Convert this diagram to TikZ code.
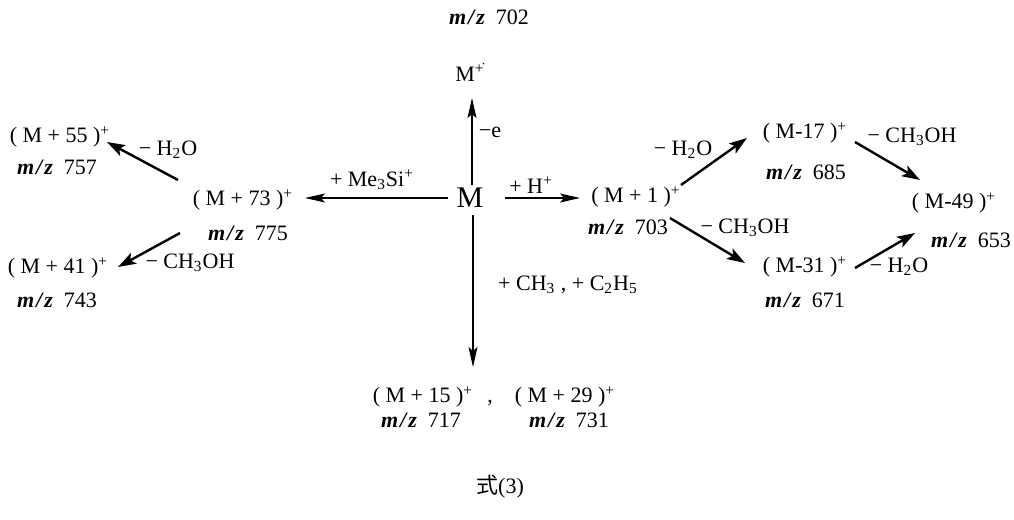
\documentclass[tikz,border=0pt]{standalone}
\usepackage{fontspec}
\setmainfont{Liberation Serif}
\newfontfamily\cjk{Noto Sans CJK SC}
\usetikzlibrary{arrows.meta}
\newcommand\mzt[1]{\textbf{\textit{m\kern1pt/\kern1pt z}}\ \ #1}
\newcommand\sbb[1]{\textsubscript{#1}}
\newcommand\spp[1]{\textsuperscript{#1}}
\begin{document}
\begin{tikzpicture}[x=0.5pt,y=-0.5pt,
  every node/.style={font=\fontsize{11}{12}\selectfont, inner sep=0pt},
  bigm/.style={font=\fontsize{15}{16}\selectfont},
  rxn/.style={-{Stealth[length=10pt,width=4.5pt,inset=2pt]}, line width=0.7pt},
  rxnb/.style={-{Stealth[length=9pt,width=6pt,inset=2pt]}, line width=1.2pt}]
\useasboundingbox (0,0) rectangle (1014,520);

% top and centre
\node (mz702) at (489,17) {\mzt{702}};
\node (Mrad) at (470,72) {M\spp{+̇}};
\node[bigm] (M) at (470,198) {M};

% left branch
\node (M73) at (243,200) {( M + 73 )\spp{+}};
\node (mz775) at (248,233) {\mzt{775}};
\node (M55) at (60,137) {( M + 55 )\spp{+}};
\node (mz757) at (57,167) {\mzt{757}};
\node (M41) at (58,268) {( M + 41 )\spp{+}};
\node (mz743) at (57,300) {\mzt{743}};

% right branch
\node (M1) at (636,197) {( M + 1 )\spp{+}};
\node (mz703) at (628,227) {\mzt{703}};
\node (M17) at (805,133) {( M-17 )\spp{+}};
\node (mz685) at (806,172) {\mzt{685}};
\node (M31) at (805,267) {( M-31 )\spp{+}};
\node (mz671) at (805,300) {\mzt{671}};
\node (M49) at (954,203) {( M-49 )\spp{+}};
\node (mz653) at (971,240) {\mzt{653}};

% bottom
\node (M15) at (423,397) {( M + 15 )\spp{+}};
\node (comma) at (490,403) {,};
\node (M29) at (565,397) {( M + 29 )\spp{+}};
\node (mz717) at (421,420) {\mzt{717}};
\node (mz731) at (569,420) {\mzt{731}};

\node (title) at (500,487) {{\cjk 式}(3)};

% arrow labels
\node (le) at (490,132) {−e};
\node (lsi) at (372,180) {+ Me\sbb{3}Si\spp{+}};
\node (lh) at (531,185) {+ H\spp{+}};
\node (lalk) at (568,285) {+ CH\sbb{3} ,\ + C\sbb{2}H\sbb{5}};
\node (lw1) at (168,150) {− H\sbb{2}O};
\node (lm1) at (190,263) {− CH\sbb{3}OH};
\node (lw2) at (683,150) {− H\sbb{2}O};
\node (lm2) at (745,228) {− CH\sbb{3}OH};
\node (lm3) at (912,137) {− CH\sbb{3}OH};
\node (lw3) at (899,267) {− H\sbb{2}O};

% arrows
\draw[rxn] ([shift={(2,-13)}]M.center) -- ([shift={(2,26)}]Mrad.center);
\draw[rxn] ([shift={(-22,0)}]M.center) -- ([shift={(62,-2)}]M73.center);
\draw[rxn] ([shift={(35,0)}]M.center) -- ([shift={(-56,1)}]M1.center);
\draw[rxn] ([shift={(3,17)}]M.center) -- ([shift={(50,-30)}]M15.center);

\draw[rxnb] ([shift={(-65,-20)}]M73.center) -- ([shift={(47,5)}]M55.center);
\draw[rxnb] ([shift={(-63,33)}]M73.center) -- ([shift={(60,-1)}]M41.center);

\draw[rxnb] ([shift={(45,-12)}]M1.center) -- ([shift={(-58,5)}]M17.center);
\draw[rxnb] ([shift={(34,21)}]M1.center) -- ([shift={(-60,-4)}]M31.center);
\draw[rxnb] ([shift={(50,9)}]M17.center) -- ([shift={(-34,-23)}]M49.center);
\draw[rxnb] ([shift={(50,1)}]M31.center) -- ([shift={(-39,30)}]M49.center);
\end{tikzpicture}
\end{document}
